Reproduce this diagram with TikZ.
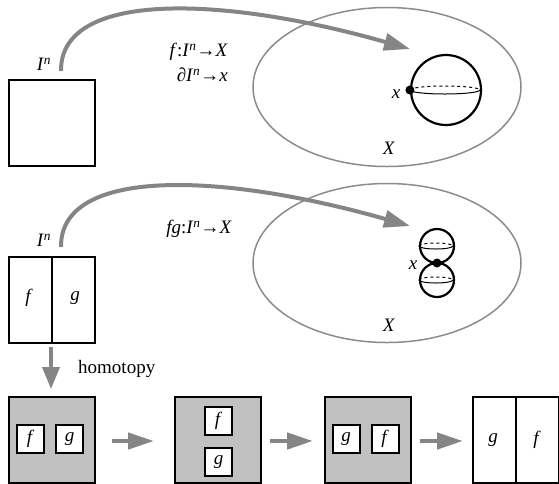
\documentclass[tikz,border=0pt]{standalone}
\usepackage{fontspec}
\setmainfont{Liberation Serif}
\usetikzlibrary{arrows.meta,shapes.geometric}
\definecolor{arrgray}{HTML}{858585}
\definecolor{ellgray}{HTML}{8C8C8C}
\definecolor{boxgray}{HTML}{C0C0C0}
\newcommand{\vi}[1]{\textit{#1}}
\newcommand{\Inn}{\vi{I}\textsuperscript{\vi{n}}}
\begin{document}
\begin{tikzpicture}[x=1pt,y=-1pt,font=\fontsize{19}{22}\selectfont,
  sq/.style={draw,line width=2pt,minimum width=86pt,minimum height=86pt,inner sep=0pt,anchor=north west},
  small/.style={draw,line width=2pt,fill=white,minimum width=27pt,minimum height=28pt,inner sep=0pt},
  ell/.style={ellipse,draw=ellgray,line width=1.5pt,minimum width=268pt,minimum height=159pt,inner sep=0pt},
  sph/.style={circle,draw,line width=2.2pt,inner sep=0pt},
  dot/.style={circle,fill,inner sep=0pt,minimum size=9pt},
  garrow/.style={draw=arrgray,line width=4pt,-{Triangle[length=26pt,width=17pt]}},
  harrow/.style={draw=arrgray,line width=4.5pt,-{Triangle[length=26pt,width=16pt]}},
  lbl/.style={inner sep=0pt}]
\useasboundingbox (0,0) rectangle (559,483);

% ---- Row 1
\node[sq] (s1) at (8,79) {};
\node[lbl] (in1) at (44,64) {\Inn};
\node[ell] (e1) at (387,87) {};
\node[sph,minimum size=70pt] (sp1) at (446,90) {};
\draw[dashed,line width=1pt] (sp1.west) arc[start angle=180,end angle=0,x radius=35pt,y radius=4pt];
\draw[line width=1pt] (sp1.west) arc[start angle=180,end angle=360,x radius=35pt,y radius=4pt];
\node[dot] (x1) at (sp1.west) {};
\node[lbl] (xl1) at (396,94) {\vi{x}};
\node[lbl] (X1) at (389,148) {\vi{X}};
\node[lbl,anchor=east] (t1) at (228,52) {\vi{f}:\Inn→\vi{X}};
\node[lbl,anchor=east] (t2) at (228,75) {∂\Inn→\vi{x}};
\coordinate (a1s) at (61,71);
\coordinate (a1e) at (410,49);
\draw[garrow] (a1s) .. controls +(-1,-80) and +(-190,-54) .. (a1e);

% ---- Row 2
\node[sq] (s2) at (8,256) {};
\draw[line width=2pt] (s2.north) -- (s2.south);
\node[lbl] (f2) at (29,298) {\vi{f}};
\node[lbl] (g2) at (75,298) {\vi{g}};
\node[lbl] (in2) at (44,240) {\Inn};
\node[ell] (e2) at (387,263) {};
\node[sph,minimum size=34pt] (sp2) at (437,246) {};
\node[sph,minimum size=34pt] (sp3) at (437,280) {};
\draw[dashed,line width=1pt] (sp2.west) arc[start angle=180,end angle=0,x radius=17pt,y radius=3pt];
\draw[line width=1pt] (sp2.west) arc[start angle=180,end angle=360,x radius=17pt,y radius=3pt];
\draw[dashed,line width=1pt] (sp3.west) arc[start angle=180,end angle=0,x radius=17pt,y radius=3pt];
\draw[line width=1pt] (sp3.west) arc[start angle=180,end angle=360,x radius=17pt,y radius=3pt];
\node[dot] (x2) at (437,263) {};
\node[lbl] (xl2) at (413,265) {\vi{x}};
\node[lbl] (X2) at (389,325) {\vi{X}};
\node[lbl,anchor=east] (t3) at (232,229) {\vi{fg}:\Inn→\vi{X}};
\coordinate (a2s) at (61,247);
\coordinate (a2e) at (410,226);
\draw[garrow] (a2s) .. controls +(-1,-80) and +(-190,-54) .. (a2e);

% ---- homotopy arrow
\coordinate (h1) at (51,347);
\coordinate (h2) at (51,389);
\draw[garrow,-{Triangle[length=22pt,width=17pt]}] (h1) -- (h2);
\node[lbl,anchor=west] (hom) at (78,369) {homotopy};

% ---- Row 3
\node[sq,fill=boxgray] (b1) at (8,396) {};
\node[small] (b1f) at (30.5,439) {\vi{f}};
\node[small] (b1g) at (69.5,439) {\vi{g}};
\node[sq,fill=boxgray] (b2) at (174,396) {};
\node[small] (b2f) at (218.5,420.5) {\vi{f}};
\node[small] (b2g) at (218.5,462) {\vi{g}};
\node[sq,fill=boxgray] (b3) at (323.5,396) {};
\node[small] (b3g) at (346,439) {\vi{g}};
\node[small] (b3f) at (385,439) {\vi{f}};
\node[sq,fill=white] (b4) at (472,396) {};
\draw[line width=2pt] (b4.north) -- (b4.south);
\node[lbl] (b4g) at (493,440) {\vi{g}};
\node[lbl] (b4f) at (537,440) {\vi{f}};

\coordinate (p1) at (112,441);
\coordinate (q1) at (154,441);
\coordinate (p2) at (270,441);
\coordinate (q2) at (313,441);
\coordinate (p3) at (420,441);
\coordinate (q3) at (463,441);
\draw[harrow] (p1) -- (q1);
\draw[harrow] (p2) -- (q2);
\draw[harrow] (p3) -- (q3);
\end{tikzpicture}
\end{document}
